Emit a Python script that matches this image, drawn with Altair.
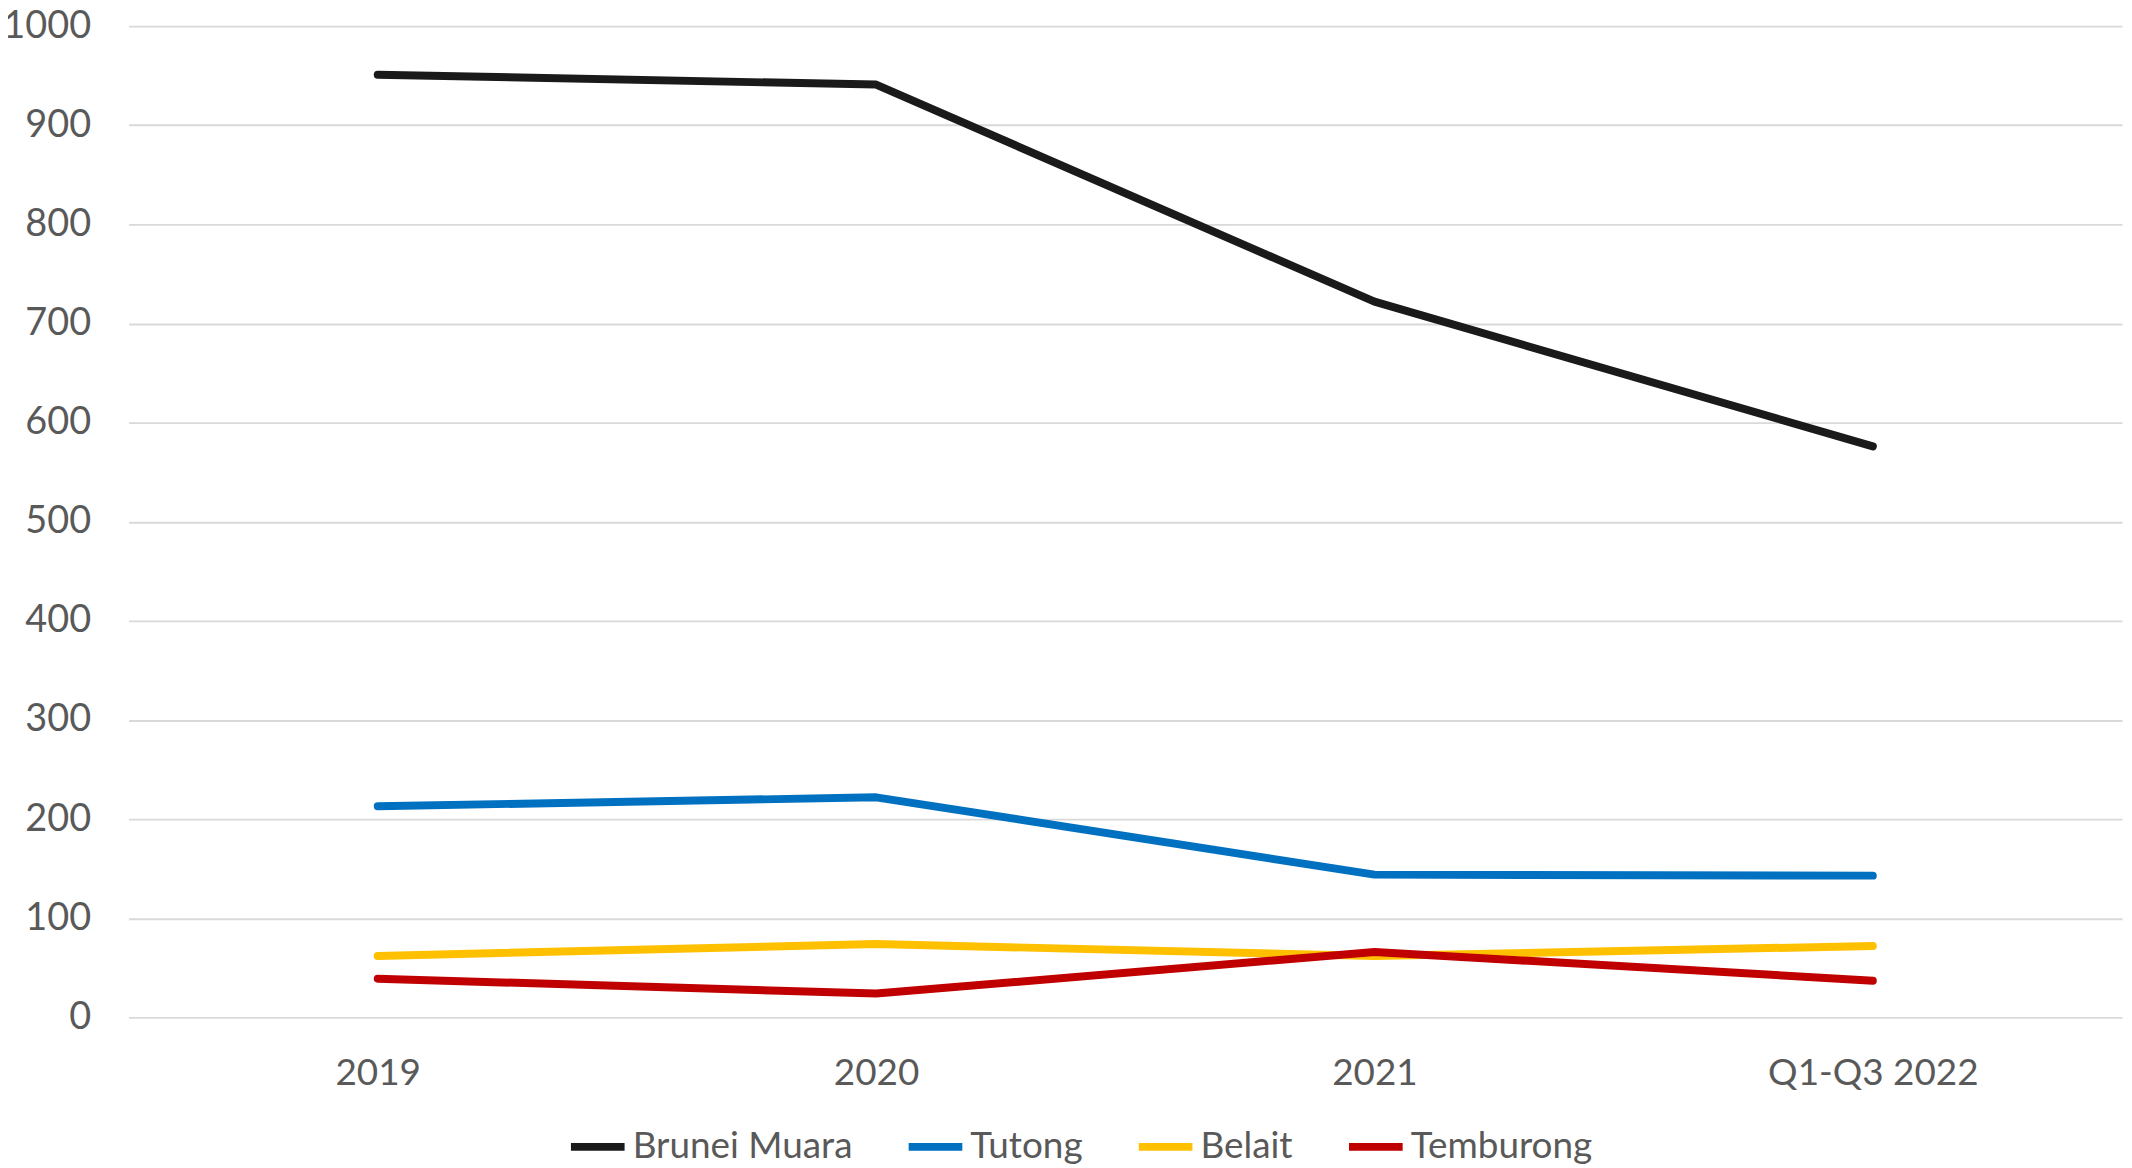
import altair as alt
import pandas as pd

periods = ["2019", "2020", "2021", "Q1-Q3 2022"]
districts = ["Brunei Muara", "Tutong", "Belait", "Temburong"]
colors = ["#1a1a1a", "#0070C0", "#FFC000", "#C00000"]

brunei_muara = [951, 941, 722, 576]
tutong = [213, 222, 144, 143]
belait = [62, 74, 62, 72]
temburong = [39, 24, 66, 37]

series = [brunei_muara, tutong, belait, temburong]
rows = []
for d, vals in zip(districts, series):
    for p, v in zip(periods, vals):
        rows.append({"Period": p, "District": d, "Value": v})
df = pd.DataFrame(rows)

FONT = "Lato"
TXT = "#595959"

chart = alt.Chart(df).mark_line(strokeWidth=8, strokeCap="round", strokeJoin="round").encode(
    x=alt.X("Period:N", sort=periods, title=None,
            scale=alt.Scale(paddingInner=0, paddingOuter=0.5),
            axis=alt.Axis(labelAngle=0, labelFontSize=37, labelFont=FONT, labelColor=TXT,
                          labelLimit=0, domain=False, ticks=False, grid=False, labelPadding=38)),
    y=alt.Y("Value:Q", title=None,
            scale=alt.Scale(domain=[0, 1000], nice=False),
            axis=alt.Axis(values=list(range(0, 1001, 100)), format="d", labelFontSize=38,
                          labelFont=FONT, labelColor=TXT, domain=False, ticks=False,
                          gridColor="#d9d9d9", gridWidth=2, labelPadding=38)),
    color=alt.Color("District:N", sort=districts,
                    scale=alt.Scale(domain=districts, range=colors),
                    legend=alt.Legend(orient="none", legendX=440, legendY=1094,
                                      direction="horizontal", title=None,
                                      symbolType="stroke", symbolStrokeWidth=8, symbolSize=2900,
                                      labelFontSize=37, labelFont=FONT, labelColor=TXT,
                                      labelLimit=0, columnPadding=40, labelOffset=4)),
    order=alt.Order("Period:N"),
).properties(width=2001, height=995,
             autosize=alt.AutoSizeParams(type="none"),
             padding={"left": 121, "top": 16, "right": 2, "bottom": 149}
).configure_view(stroke=None)

chart.save("out.html", embed_options={"renderer": "svg", "actions": False})
